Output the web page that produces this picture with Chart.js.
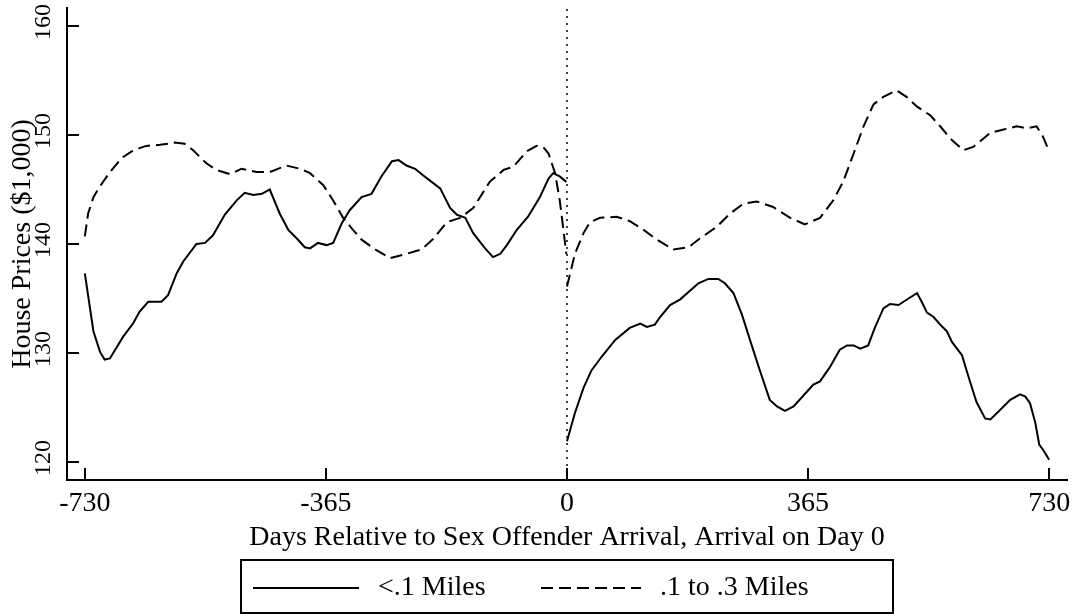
<!DOCTYPE html>
<html>
<head>
<meta charset="utf-8">
<script src="https://cdn.jsdelivr.net/npm/chart.js@4.4.1/dist/chart.umd.min.js"></script>
<style>
  html, body { margin: 0; padding: 0; background: #fff; }
  #wrap { width: 1077px; height: 616px; position: relative; }
</style>
</head>
<body>
<div id="wrap"><canvas id="chart"></canvas></div>
<script>
// House prices around a sex offender's arrival (day 0), two distance bands

const seriesLabels = ['<.1 Miles', '.1 to .3 Miles'];
const xTicks = [-730, -365, 0, 365, 730];
const yTicks = [120, 130, 140, 150, 160];

// <.1 miles, before arrival
const nearPreDays = [-730, -717, -707, -700, -692, -672, -657, -647, -634, -614, -604, -591, -581, -561, -548, -536,
  -518, -500, -488, -475, -462, -450, -435, -422, -409, -397, -389, -377, -364, -354, -341, -329, -311, -296, -281,
  -265, -255, -243, -230, -218, -205, -192, -177, -167, -154, -142, -124, -112, -101, -91, -76, -59, -41, -28, -21, -11, -1];
const nearPreVals = [137.3, 132.0, 130.1, 129.4, 129.5, 131.5, 132.7, 133.8, 134.7, 134.7, 135.3, 137.3, 138.4, 140.0,
  140.1, 140.8, 142.7, 144.0, 144.7, 144.5, 144.6, 145.0, 142.8, 141.3, 140.5, 139.7, 139.6, 140.1, 139.9, 140.1, 141.9,
  143.1, 144.3, 144.6, 146.2, 147.6, 147.7, 147.2, 146.9, 146.3, 145.7, 145.1, 143.3, 142.7, 142.4, 141.0, 139.6, 138.8,
  139.1, 139.9, 141.3, 142.5, 144.3, 146.0, 146.5, 146.2, 145.7];

// <.1 miles, after arrival
const nearPostDays = [0, 12, 25, 37, 53, 73, 95, 111, 121, 133, 141, 156, 171, 184, 199, 214, 229, 239, 252, 265, 277,
  292, 307, 318, 330, 343, 358, 373, 383, 398, 413, 424, 434, 444, 456, 466, 479, 489, 502, 517, 530, 537, 545, 555,
  565, 575, 583, 598, 608, 620, 633, 641, 656, 671, 686, 694, 701, 709, 715, 721, 730];
const nearPostVals = [121.9, 124.5, 126.8, 128.4, 129.7, 131.2, 132.3, 132.7, 132.4, 132.6, 133.3, 134.4, 134.9, 135.6,
  136.4, 136.8, 136.8, 136.4, 135.5, 133.5, 131.2, 128.4, 125.7, 125.1, 124.7, 125.1, 126.1, 127.1, 127.4, 128.7, 130.3,
  130.7, 130.7, 130.4, 130.7, 132.3, 134.1, 134.5, 134.4, 135.0, 135.5, 134.7, 133.7, 133.3, 132.6, 132.0, 131.0, 129.8,
  127.8, 125.5, 124.0, 123.9, 124.8, 125.7, 126.2, 126.0, 125.4, 123.6, 121.6, 121.1, 120.2];

// .1 to .3 miles, before arrival
const farPreDays = [-730, -725, -717, -707, -692, -674, -659, -647, -637, -616, -594, -579, -566, -546, -531, -510,
  -493, -470, -450, -425, -404, -389, -369, -354, -339, -324, -311, -293, -268, -243, -220, -202, -182, -162, -142,
  -117, -96, -81, -61, -46, -36, -28, -18, -11, -6, -1];
const farPreVals = [140.7, 142.8, 144.3, 145.3, 146.6, 147.9, 148.5, 148.8, 149.0, 149.1, 149.3, 149.2, 148.6, 147.4,
  146.8, 146.4, 146.9, 146.6, 146.6, 147.2, 146.9, 146.5, 145.4, 144.0, 142.4, 141.3, 140.4, 139.6, 138.7, 139.1, 139.5,
  140.5, 142.0, 142.4, 143.3, 145.7, 146.8, 147.1, 148.5, 149.0, 148.9, 148.3, 146.5, 144.0, 141.6, 139.1];

// .1 to .3 miles, after arrival
const farPostDays = [0, 12, 25, 35, 50, 75, 95, 116, 136, 161, 184, 201, 227, 247, 267, 287, 312, 338, 360, 383, 403,
  418, 434, 449, 464, 479, 499, 514, 530, 550, 565, 580, 600, 615, 641, 661, 681, 696, 711, 721, 730];
const farPostVals = [136.1, 139.1, 141.0, 142.0, 142.4, 142.5, 142.1, 141.3, 140.4, 139.5, 139.7, 140.5, 141.6, 142.8,
  143.7, 143.9, 143.4, 142.4, 141.8, 142.4, 144.0, 145.7, 148.3, 150.8, 152.8, 153.5, 154.1, 153.5, 152.6, 151.8, 150.8,
  149.7, 148.6, 148.9, 150.2, 150.5, 150.8, 150.6, 150.8, 149.8, 148.5];

const X_MIN = -757, X_MAX = 757;
const Y_MIN = 118.35, Y_MAX = 161.65;
const FONT = '"Liberation Serif", "Times New Roman", serif';
const DASH = [12, 6];

const toPoints = (days, vals) => days.map((d, i) => ({ x: d, y: vals[i] }));

function lineSet(label, days, vals, dash) {
  return {
    label,
    data: toPoints(days, vals),
    borderColor: '#000',
    borderWidth: 2,
    borderDash: dash,
    pointRadius: 0,
    tension: 0,
    fill: false
  };
}

// inward tick marks and the rotated y tick labels
const axisMarks = {
  id: 'axisMarks',
  afterDraw(chart) {
    const { ctx, chartArea, scales: { x, y } } = chart;
    ctx.save();
    ctx.strokeStyle = '#000';
    ctx.lineWidth = 2;
    ctx.beginPath();
    xTicks.forEach(v => {
      const px = Math.round(x.getPixelForValue(v));
      ctx.moveTo(px, chartArea.bottom);
      ctx.lineTo(px, chartArea.bottom - 12);
    });
    yTicks.forEach(v => {
      const py = Math.round(y.getPixelForValue(v));
      ctx.moveTo(chartArea.left, py);
      ctx.lineTo(chartArea.left + 12, py);
    });
    ctx.stroke();

    ctx.fillStyle = '#000';
    ctx.font = '24px ' + FONT;
    ctx.textAlign = 'center';
    ctx.textBaseline = 'alphabetic';
    yTicks.forEach(v => {
      ctx.save();
      ctx.translate(chartArea.left - 17, y.getPixelForValue(v) - 4);
      ctx.rotate(-Math.PI / 2);
      ctx.fillText(String(v), 0, 0);
      ctx.restore();
    });
    ctx.restore();
  }
};

// Stata-style boxed legend under the x title
const boxLegend = {
  id: 'boxLegend',
  afterDraw(chart) {
    const { ctx, chartArea } = chart;
    const cx = (chartArea.left + chartArea.right) / 2;
    const left = Math.round(cx - 326), top = 560, w = 652, h = 53;
    const midY = top + 28;
    ctx.save();
    ctx.strokeStyle = '#000';
    ctx.lineWidth = 2;
    ctx.strokeRect(left, top, w, h);

    const keys = [
      { text: seriesLabels[0], dash: [], at: 12, len: 106 },
      { text: seriesLabels[1], dash: DASH, at: 300, len: 100 }
    ];
    ctx.font = '28px ' + FONT;
    ctx.fillStyle = '#000';
    ctx.textAlign = 'left';
    ctx.textBaseline = 'middle';
    keys.forEach(k => {
      ctx.setLineDash(k.dash);
      ctx.beginPath();
      ctx.moveTo(left + k.at, midY);
      ctx.lineTo(left + k.at + k.len, midY);
      ctx.stroke();
      ctx.setLineDash([]);
      ctx.fillText(k.text, left + k.at + k.len + 19, midY);
    });
    ctx.restore();
  }
};

new Chart(document.getElementById('chart'), {
  type: 'line',
  data: {
    datasets: [
      lineSet(seriesLabels[0], nearPreDays, nearPreVals, []),
      lineSet(seriesLabels[0], nearPostDays, nearPostVals, []),
      lineSet(seriesLabels[1], farPreDays, farPreVals, DASH),
      lineSet(seriesLabels[1], farPostDays, farPostVals, DASH),
      {
        label: 'Day 0',
        data: [{ x: 0, y: Y_MIN }, { x: 0, y: Y_MAX }],
        borderColor: '#000',
        borderWidth: 1.5,
        borderDash: [2, 5],
        pointRadius: 0
      }
    ]
  },
  options: {
    responsive: true,
    maintainAspectRatio: false,
    animation: false,
    layout: { padding: { top: 8, right: 10, bottom: 62, left: 0 } },
    plugins: {
      legend: { display: false },
      tooltip: { enabled: false }
    },
    scales: {
      x: {
        type: 'linear',
        min: X_MIN,
        max: X_MAX,
        afterBuildTicks: s => { s.ticks = xTicks.map(v => ({ value: v })); },
        afterFit: s => { s.height = 74; s.paddingLeft = 0; s.paddingRight = 0; },
        grid: { display: false, drawTicks: false },
        border: { display: true, color: '#000', width: 2 },
        ticks: {
          color: '#000',
          font: { family: FONT, size: 28 },
          padding: 7,
          maxRotation: 0,
          callback: v => String(v)
        },
        title: {
          display: true,
          text: 'Days Relative to Sex Offender Arrival, Arrival on Day 0',
          color: '#000',
          font: { family: FONT, size: 28 },
          padding: { top: 0, bottom: 0 }
        }
      },
      y: {
        type: 'linear',
        min: Y_MIN,
        max: Y_MAX,
        afterFit: s => { s.width = 67; },
        grid: { display: false, drawTicks: false },
        border: { display: true, color: '#000', width: 2 },
        ticks: { display: false },
        title: {
          display: true,
          text: 'House Prices ($1,000)',
          color: '#000',
          font: { family: FONT, size: 28 },
          padding: { top: 6, bottom: 0 }
        }
      }
    }
  },
  plugins: [axisMarks, boxLegend]
});
</script>
</body>
</html>
